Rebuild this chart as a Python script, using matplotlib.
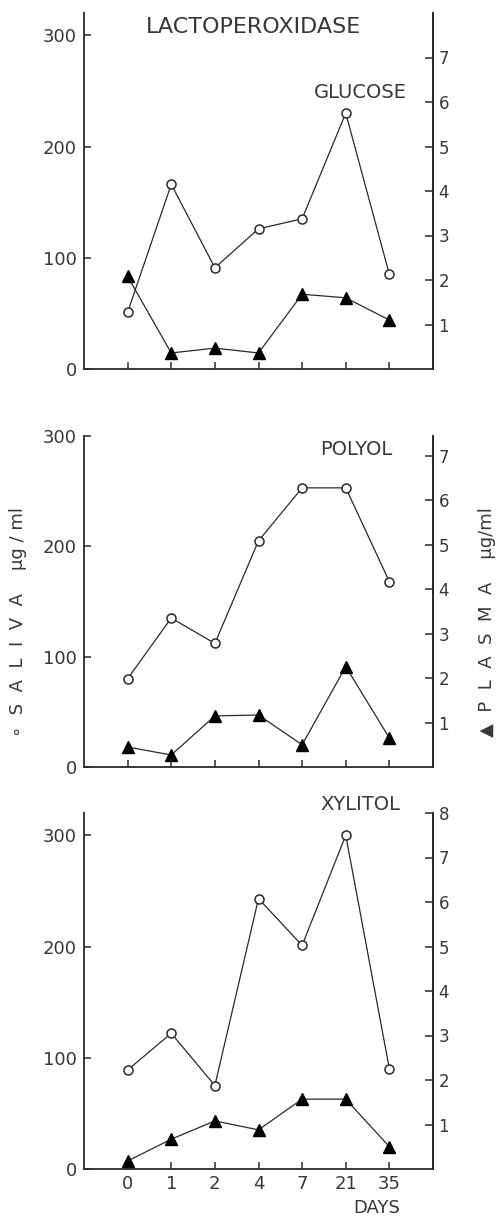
import matplotlib
matplotlib.use("Agg")
import matplotlib.pyplot as plt

days = ["0", "1", "2", "4", "7", "21", "35"]

glucose_saliva = [51, 166, 91, 126, 135, 230, 85]
glucose_plasma = [2.08, 0.36, 0.47, 0.36, 1.68, 1.60, 1.10]

polyol_saliva = [80, 135, 112, 205, 253, 253, 168]
polyol_plasma = [0.45, 0.27, 1.15, 1.17, 0.50, 2.26, 0.65]

xylitol_saliva = [89, 122, 75, 243, 201, 300, 90]
xylitol_plasma = [0.18, 0.67, 1.08, 0.88, 1.57, 1.57, 0.50]

left_ticks = [0, 100, 200, 300]

plt.rcParams['font.family'] = ['DejaVu Sans']
W, H = 500, 1217
fig = plt.figure(figsize=(W / 100, H / 100), dpi=100)

col = "#2a2a2a"
tcol = "#383838"
lw = 0.9

panels = [
    (glucose_saliva, glucose_plasma, "GLUCOSE", 13, 369, 320, 8.0, [1, 2, 3, 4, 5, 6, 7], (407, 93)),
    (polyol_saliva, polyol_plasma, "POLYOL", 436, 767, 300, 7.45, [1, 2, 3, 4, 5, 6, 7], (392, 450)),
    (xylitol_saliva, xylitol_plasma, "XYLITOL", 813, 1169, 320, 8.0, [1, 2, 3, 4, 5, 6, 7, 8], (400, 804)),
]

x = list(range(len(days)))
left_px, right_px = 84, 433

for i, (sal, pla, name, top, bot, lmax, rmax, rticks, lab) in enumerate(panels):
    ax = fig.add_axes([left_px / W, 1 - bot / H, (right_px - left_px) / W, (bot - top) / H])
    ax.set_xlim(-1, 7)
    ax.set_ylim(0, lmax)
    ax.spines['top'].set_visible(False)
    for s in ['left', 'bottom', 'right']:
        ax.spines[s].set_linewidth(1.3)
        ax.spines[s].set_color(col)
    ax.set_yticks(left_ticks)
    ax.set_yticklabels([str(t) for t in left_ticks], fontsize=13, color=tcol)
    ax.set_xticks(x)
    if i == 2:
        ax.set_xticklabels(days, fontsize=13, color=tcol)
    else:
        ax.set_xticklabels([])
    ax.tick_params(axis='both', direction='in', length=5, width=1.1, color=col, pad=4)
    ax.tick_params(axis='y', pad=5)
    ax.patch.set_alpha(0)

    ax2 = ax.twinx()
    ax2.set_ylim(0, rmax)
    ax2.spines['top'].set_visible(False)
    ax2.spines['left'].set_visible(False)
    ax2.spines['bottom'].set_visible(False)
    ax2.spines['right'].set_linewidth(1.3)
    ax2.spines['right'].set_color(col)
    ax2.set_yticks(rticks)
    ax2.set_yticklabels([str(t) for t in rticks], fontsize=12, color=tcol)
    ax2.tick_params(axis='y', direction='in', length=6, width=1.1, color=col, pad=4)

    ax.plot(x, sal, color=col, lw=lw, marker='o', markersize=6.5,
            markerfacecolor='white', markeredgecolor=col, markeredgewidth=1.1, zorder=3)
    ax2.plot(x, pla, color=col, lw=lw, marker='^', markersize=8,
             markerfacecolor='black', markeredgecolor='black', zorder=3)

    fig.text(lab[0] / W, 1 - lab[1] / H, name, ha='right', va='center',
             fontsize=14, color=tcol)

fig.text(253 / W, 1 - 27 / H, "LACTOPEROXIDASE", ha='center', va='center',
         fontsize=16, color=tcol)
fig.text(377 / W, 1 - 1208 / H, "DAYS", ha='center', va='center',
         fontsize=13, color=tcol)

fig.text(18 / W, 1 - 622 / H, "\u2218  S  A  L  I  V  A    \u00b5g / ml", rotation=90,
         ha='center', va='center', fontsize=13, color=tcol)
fig.text(487 / W, 1 - 622 / H, "\u25b2  P  L  A  S  M  A    \u00b5g/ml", rotation=90,
         ha='center', va='center', fontsize=13, color=tcol)

fig.savefig("out.png", dpi=100)
